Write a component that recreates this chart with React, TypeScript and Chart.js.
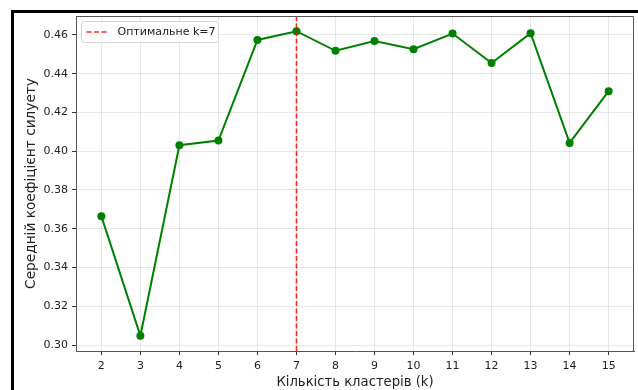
import React, { useEffect, useRef } from 'react';
import { Chart, registerables } from 'chart.js';

Chart.register(...registerables);

const clusterCounts = [2, 3, 4, 5, 6, 7, 8, 9, 10, 11, 12, 13, 14, 15];
const silhouetteScores = [0.3665, 0.3048, 0.4031, 0.4055, 0.4574, 0.4619, 0.4518, 0.4568, 0.4526, 0.4607, 0.4455, 0.4609, 0.4043, 0.431];
const optimalK = 7;
const optimalLabel = 'Оптимальне k=7';
const xTitle = 'Кількість кластерів (k)';
const yTitle = 'Середній коефіцієнт силуету';

const FONT = '"DejaVu Sans", sans-serif';

const frameLegendPlugin = {
  id: 'frameLegend',
  afterDatasetsDraw(chart: any) {
    const { ctx, chartArea } = chart;
    ctx.save();
    // top and right spines
    ctx.strokeStyle = '#555';
    ctx.lineWidth = 1;
    ctx.beginPath();
    ctx.moveTo(chartArea.left, chartArea.top + 0.5);
    ctx.lineTo(chartArea.right - 0.5, chartArea.top + 0.5);
    ctx.lineTo(chartArea.right - 0.5, chartArea.bottom);
    ctx.stroke();
    // legend box
    const x = chartArea.left + 5.5;
    const y = chartArea.top + 5.5;
    const w = 137;
    const h = 21;
    ctx.beginPath();
    (ctx as any).roundRect(x, y, w, h, 3);
    ctx.fillStyle = 'rgba(255,255,255,0.85)';
    ctx.fill();
    ctx.strokeStyle = '#d4d4d4';
    ctx.stroke();
    const ds = chart.data.datasets[0];
    ctx.setLineDash([5, 2.5]);
    ctx.strokeStyle = ds.borderColor;
    ctx.lineWidth = 1.6;
    ctx.beginPath();
    ctx.moveTo(x + 5, y + 10.5);
    ctx.lineTo(x + 27, y + 10.5);
    ctx.stroke();
    ctx.setLineDash([]);
    ctx.font = '11px ' + FONT;
    ctx.fillStyle = '#222';
    ctx.textBaseline = 'middle';
    ctx.fillText(ds.label, x + 36, y + 11);
    ctx.restore();
  },
};

export default function App() {
  const ref = useRef<HTMLCanvasElement>(null);

  useEffect(() => {
    const minV = Math.min(...silhouetteScores);
    const maxV = Math.max(...silhouetteScores);
    const pad = (maxV - minV) * 0.05;
    const yMin = minV - pad;
    const yMax = maxV + pad;
    const xPad = (clusterCounts[clusterCounts.length - 1] - clusterCounts[0]) * 0.05;

    const chart = new Chart(ref.current as HTMLCanvasElement, {
      type: 'line',
      data: {
        datasets: [
          {
            label: optimalLabel,
            data: [
              { x: optimalK, y: yMin },
              { x: optimalK, y: yMax },
            ],
            borderColor: 'rgba(255,0,0,0.85)',
            borderWidth: 1.6,
            borderDash: [5, 2.5],
            pointRadius: 0,
            fill: false,
          },
          {
            label: 'silhouette',
            data: clusterCounts.map((k, i) => ({ x: k, y: silhouetteScores[i] })),
            borderColor: '#008000',
            backgroundColor: '#008000',
            borderWidth: 2,
            pointRadius: 4,
            pointBackgroundColor: '#008000',
            pointBorderWidth: 0,
            fill: false,
            tension: 0,
          },
        ],
      },
      options: {
        animation: false,
        responsive: false,
        devicePixelRatio: 1,
        layout: { padding: { left: 14, top: 16, right: 0, bottom: 0 } },
        plugins: {
          legend: { display: false },
          tooltip: { enabled: false },
        },
        scales: {
          x: {
            type: 'linear',
            min: clusterCounts[0] - xPad,
            max: clusterCounts[clusterCounts.length - 1] + xPad,
            afterFit: (s: any) => {
              s.height = 39;
            },
            ticks: {
              stepSize: 1,
              includeBounds: false,
              color: '#222',
              font: { family: FONT, size: 11 },
              padding: 5,
              maxRotation: 0,
              autoSkip: false,
            },
            grid: {
              color: 'rgba(176,176,176,0.3)',
              tickColor: '#333',
              tickLength: 4,
            },
            border: { display: true, color: '#555', width: 1 },
            title: {
              display: true,
              text: xTitle,
              color: '#222',
              font: { family: FONT, size: 13.2 },
              padding: { top: 0, bottom: 0 },
            },
          },
          y: {
            type: 'linear',
            min: yMin,
            max: yMax,
            afterFit: (s: any) => {
              s.width = 62;
            },
            ticks: {
              stepSize: 0.02,
              includeBounds: false,
              color: '#222',
              font: { family: FONT, size: 11 },
              padding: 4,
              callback: (v: any) => Number(v).toFixed(2),
            },
            grid: {
              color: 'rgba(176,176,176,0.3)',
              tickColor: '#333',
              tickLength: 4,
            },
            border: { display: true, color: '#555', width: 1 },
            title: {
              display: true,
              text: yTitle,
              color: '#222',
              font: { family: FONT, size: 13.7 },
              padding: { top: 9, bottom: 0 },
            },
          },
        },
      },
      plugins: [frameLegendPlugin],
    });
    return () => chart.destroy();
  }, []);

  return (
    <div style={{ position: 'fixed', left: 0, top: 0, width: 638, height: 390, background: '#fff' }}>
      <canvas ref={ref} width={638} height={390} style={{ position: 'absolute', left: 0, top: 0 }} />
      <div
        style={{
          position: 'absolute',
          left: 11,
          top: 10,
          width: 627,
          height: 380,
          borderTop: '3px solid #000',
          borderLeft: '3px solid #000',
          boxSizing: 'border-box',
          pointerEvents: 'none',
        }}
      />
    </div>
  );
}
